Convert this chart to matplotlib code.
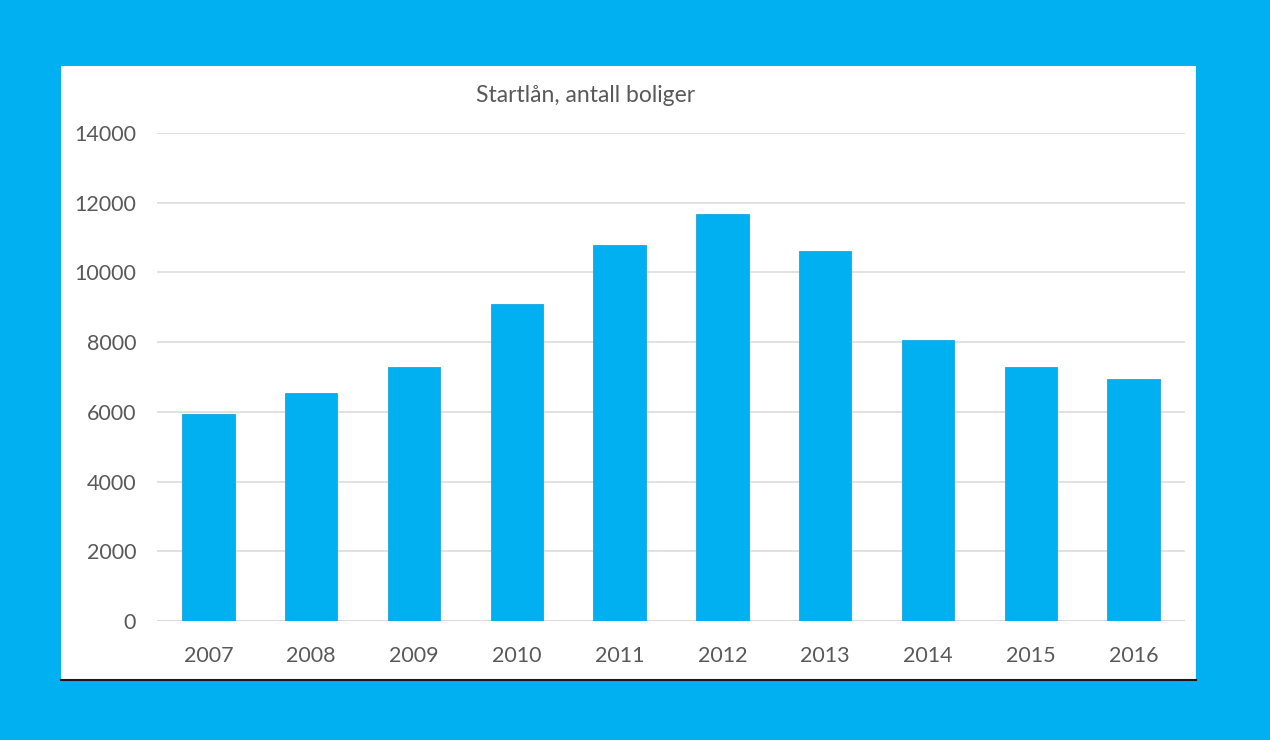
import matplotlib
matplotlib.use("Agg")
import matplotlib.pyplot as plt
from matplotlib.patches import Rectangle
from matplotlib.lines import Line2D

years = ["2007", "2008", "2009", "2010", "2011", "2012", "2013", "2014", "2015", "2016"]
values = [5950, 6550, 7300, 9100, 10800, 11680, 10620, 8070, 7300, 6930]
yticks = [0, 2000, 4000, 6000, 8000, 10000, 12000, 14000]

W, H = 1270, 740
fig = plt.figure(figsize=(W / 100, H / 100), dpi=100)
fig.patch.set_facecolor("#00B0F0")

# white panel
fig.patches.append(Rectangle((61 / W, 1 - 679 / H), (1196 - 61) / W, (679 - 66) / H,
                             transform=fig.transFigure, facecolor="white", edgecolor="none", zorder=-2))
fig.lines.append(Line2D([61 / W, 1196 / W], [1 - 679.5 / H, 1 - 679.5 / H],
                        transform=fig.transFigure, color="#1a1a1a", lw=1.5, zorder=-1))

ax = fig.add_axes([157 / W, 1 - 621 / H, (1185 - 157) / W, (621 - 133) / H])
ax.set_facecolor("none")
x = range(len(years))
ax.bar(x, values, width=0.51, color="#00B0F0", edgecolor="#1aa6dc", linewidth=0.6, zorder=3)
ax.set_xlim(-0.5, len(years) - 0.5)
ax.set_ylim(0, 14000)
ax.set_yticks(yticks)
ax.set_xticks(list(x))
ax.set_xticklabels(years)
ax.grid(axis="y", color="#d9d9d9", lw=1.1, zorder=0)
for s in ax.spines.values():
    s.set_visible(False)
ax.axhline(0, color="#d9d9d9", lw=1.1, zorder=2)
ax.tick_params(axis="both", length=0, labelsize=15.5, colors="#595959")
ax.tick_params(axis="y", pad=15)
ax.tick_params(axis="x", pad=18)
for lab in ax.get_xticklabels() + ax.get_yticklabels():
    lab.set_fontfamily("Lato")

fig.text(586 / W, 1 - 96 / H, "Startlån, antall boliger", ha="center", va="center",
         fontsize=16.5, color="#595959", fontfamily="Lato")

fig.savefig("out.png", dpi=100, facecolor=fig.get_facecolor())
